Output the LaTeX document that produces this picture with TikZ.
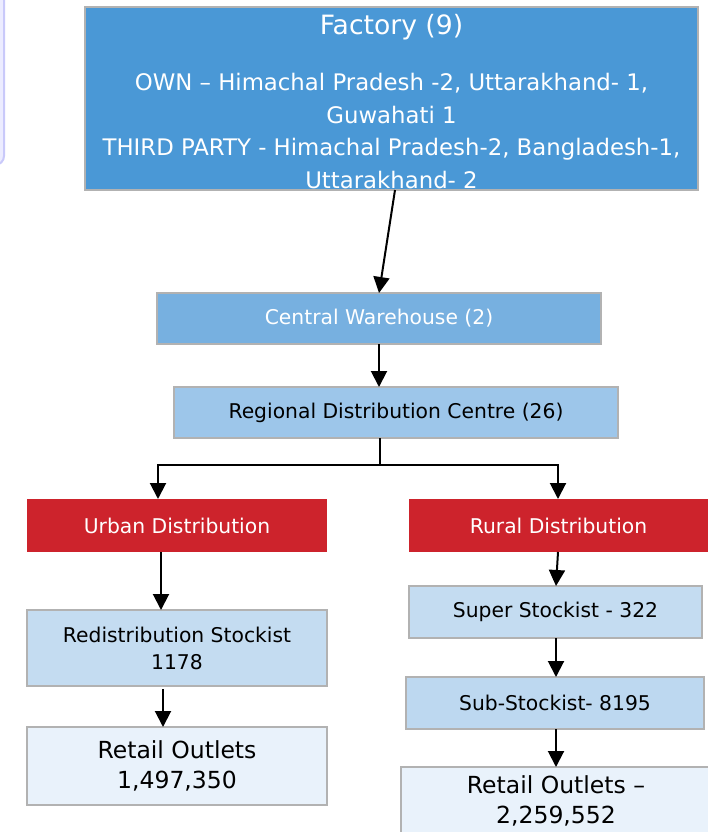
\documentclass[tikz,border=0pt]{standalone}
\usepackage{fontspec}
\setmainfont{DejaVu Sans}
\usetikzlibrary{arrows.meta}
\definecolor{facblue}{HTML}{4A98D6}
\definecolor{cwblue}{HTML}{77B0E0}
\definecolor{rdcblue}{HTML}{9DC6EA}
\definecolor{stkblue}{HTML}{C4DCF1}
\definecolor{subblue}{HTML}{BDD8F0}
\definecolor{retblue}{HTML}{E9F2FB}
\definecolor{distred}{HTML}{CD232C}
\definecolor{boxgray}{HTML}{B2B2B2}
\definecolor{lavF}{HTML}{ECECFF}
\definecolor{lavB}{HTML}{C9C9FA}
\begin{document}
\begin{tikzpicture}[x=1pt,y=-1pt,
  box/.style={rectangle, draw=boxgray, line width=1.5pt, inner sep=0pt, outer sep=0pt, align=center},
  redbox/.style={rectangle, fill=distred, inner sep=0pt, outer sep=0pt, align=center, text=white, font=\fontsize{20.3}{24}\selectfont},
  normtext/.style={font=\fontsize{20.3}{27}\selectfont},
  rettext/.style={font=\fontsize{23.5}{30}\selectfont},
  line/.style={line width=2pt, black},
  arr/.style={line width=2pt, black, -{Triangle[width=16pt,length=16pt]}}]
\clip (0,0) rectangle (708,832);
\fill[white] (0,0) rectangle (708,832);
% lavender shape at top-left
\draw[draw=lavB, fill=lavF, line width=2pt, rounded corners=9pt] (-30,-30) rectangle (4,165);
% factory
\node[box, fill=facblue, minimum width=613pt, minimum height=183pt] (fac) at (391.5,98.5) {};
\node[text=white, font=\fontsize{26.6}{32}\selectfont] (factitle) at (391.5,27) {Factory (9)};
\node[text=white, align=center, font=\fontsize{22.8}{32.7}\selectfont] (facbody) at (391.5,131) {OWN – Himachal Pradesh -2, Uttarakhand- 1,\\Guwahati 1\\THIRD PARTY - Himachal Pradesh-2, Bangladesh-1,\\Uttarakhand- 2};
% central warehouse and RDC
\node[box, fill=cwblue, text=white, normtext, minimum width=444pt, minimum height=51pt] (cw) at (379,318.5) {Central Warehouse (2)};
\node[box, fill=rdcblue, normtext, minimum width=444pt, minimum height=51pt] (rdc) at (396,412.5) {Regional Distribution Centre (26)};
% distribution
\node[redbox, minimum width=300pt, minimum height=53pt] (urb) at (177,525.5) {Urban Distribution};
\node[redbox, minimum width=303pt, minimum height=53pt] (rur) at (560.5,525.5) {\hspace*{-4pt}Rural Distribution};
% urban chain
\node[box, fill=stkblue, normtext, minimum width=300pt, minimum height=76pt] (rds) at (177,648) {Redistribution Stockist\\1178};
\node[box, fill=retblue, rettext, minimum width=300pt, minimum height=78pt] (rol) at (177,766) {Retail Outlets\\1,497,350};
% rural chain
\node[box, fill=stkblue, normtext, minimum width=293pt, minimum height=52pt] (sst) at (555.5,612) {Super Stockist - 322};
\node[box, fill=subblue, normtext, minimum width=298pt, minimum height=52pt] (sub) at (555,703) {Sub-Stockist- 8195};
\node[box, fill=retblue, rettext, minimum width=310pt, minimum height=68pt] (ror) at (556,801) {Retail Outlets –\\2,259,552};
% connectors
\draw[arr] ([xshift=3.5pt]fac.south) -- (cw.north);
\draw[arr] (cw.south) -- (cw.south |- rdc.north);
\coordinate (split) at (380,465);
\draw[line] ([xshift=-16pt]rdc.south) -- (split);
\draw[arr] (split) -| ([xshift=-19pt]urb.north);
\draw[arr] (split) -| ([xshift=-2.5pt]rur.north);
\draw[arr] ([xshift=-16pt]urb.south) -- ([xshift=-16pt]rds.north);
\draw[arr] ([xshift=-14pt,yshift=-3pt]rds.south) -- ([xshift=-14pt]rol.north);
\draw[arr] ([xshift=-2.5pt]rur.south) -- ([xshift=0.5pt]sst.north);
\draw[arr] ([xshift=0.5pt]sst.south) -- ([xshift=1pt]sub.north);
\draw[arr] ([xshift=1pt]sub.south) -- (ror.north);
\end{tikzpicture}
\end{document}
